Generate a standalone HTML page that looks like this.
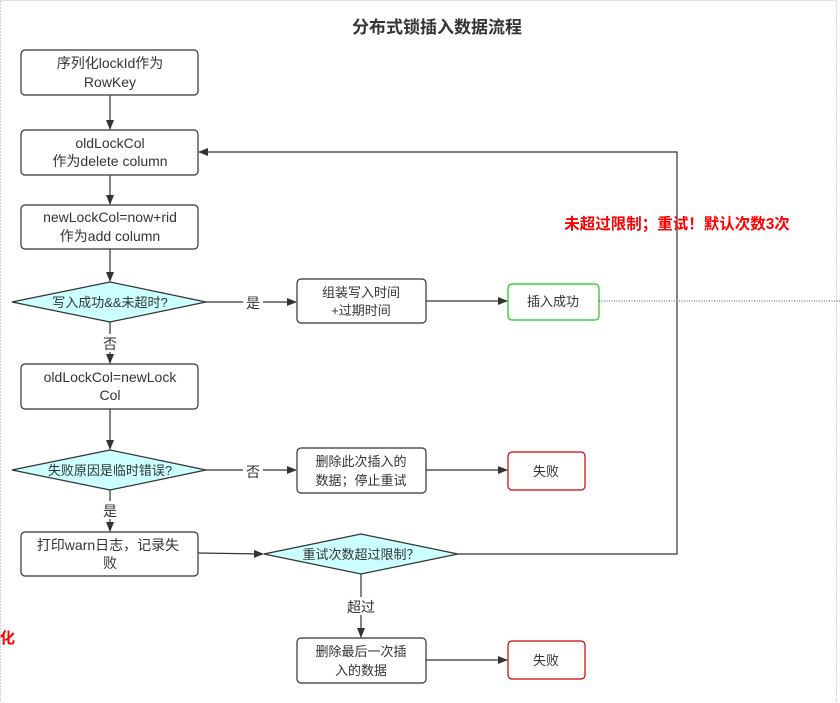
<!DOCTYPE html>
<html><head><meta charset="utf-8"><style>
body{margin:0;background:#fff;}
svg{display:block;font-family:"Liberation Sans","Noto Sans CJK SC",sans-serif;}
</style></head><body>
<svg width="840" height="703" viewBox="0 0 840 703" xmlns="http://www.w3.org/2000/svg">
<defs><marker id="a" markerWidth="10" markerHeight="8" refX="9" refY="4" orient="auto" markerUnits="userSpaceOnUse"><path d="M0,0 L10,4 L0,8 z" fill="#333"/></marker></defs>
<rect x="0.5" y="0.5" width="836" height="710" fill="none" stroke="#aaa" stroke-dasharray="1,2"/>
<text x="437" y="33" font-size="17" font-weight="bold" fill="#333" text-anchor="middle">分布式锁插入数据流程</text>
<g fill="#fff" stroke="#333" stroke-width="1.2">
<rect x="21" y="50" width="177" height="45" rx="4"/>
<rect x="21" y="130" width="177" height="45" rx="4"/>
<rect x="21" y="205" width="177" height="44" rx="4"/>
<rect x="297" y="279" width="129" height="44" rx="4"/>
<rect x="21" y="364" width="177" height="45" rx="4"/>
<rect x="297" y="448" width="129" height="45" rx="4"/>
<rect x="21" y="532" width="177" height="44" rx="4"/>
<rect x="297" y="638" width="129" height="45" rx="4"/>
<polygon points="12,302 110,282 206,302 110,322" fill="#ccffff"/>
<polygon points="12,470 110,450 206,470 110,490" fill="#ccffff"/>
<polygon points="264,554 361,534 458,554 361,574" fill="#ccffff"/>
</g>
<rect x="508" y="284" width="91" height="36" rx="4" fill="#fff" stroke="#1c1" stroke-width="1.2"/>
<rect x="508" y="452" width="77" height="38" rx="4" fill="#fff" stroke="#c00" stroke-width="1.2"/>
<rect x="508" y="641" width="77" height="38" rx="4" fill="#fff" stroke="#c00" stroke-width="1.2"/>
<g stroke="#333" stroke-width="1.2" fill="none" marker-end="url(#a)">
<line x1="110" y1="95" x2="110" y2="129"/>
<line x1="110" y1="175" x2="110" y2="204"/>
<line x1="110" y1="249" x2="110" y2="281"/>
<line x1="206" y1="302" x2="296" y2="302"/>
<line x1="426" y1="301" x2="507" y2="301"/>
<line x1="110" y1="322" x2="110" y2="363"/>
<line x1="110" y1="409" x2="110" y2="449"/>
<line x1="206" y1="470" x2="296" y2="470"/>
<line x1="426" y1="470" x2="507" y2="470"/>
<line x1="110" y1="490" x2="110" y2="531"/>
<line x1="198" y1="553" x2="263" y2="554"/>
<line x1="361" y1="574" x2="361" y2="637"/>
<line x1="426" y1="660" x2="507" y2="660"/>
<polyline points="458,554 677,554 677,152 199,152"/>
</g>
<line x1="599" y1="301" x2="840" y2="301" stroke="#555" stroke-dasharray="1,1.5"/>
<g font-size="14" fill="#333" text-anchor="middle">
<rect x="243" y="293" width="20" height="18" fill="#fff"/><text x="253" y="308">是</text>
<rect x="100" y="334" width="20" height="18" fill="#fff"/><text x="110" y="349">否</text>
<rect x="243" y="461" width="20" height="18" fill="#fff"/><text x="253" y="477">否</text>
<rect x="100" y="501" width="20" height="18" fill="#fff"/><text x="110" y="516">是</text>
<rect x="344" y="597" width="34" height="18" fill="#fff"/><text x="361" y="612">超过</text>
<text x="110" y="68">序列化lockId作为</text><text x="110" y="87">RowKey</text>
<text x="110" y="148">oldLockCol</text><text x="110" y="166">作为delete column</text>
<text x="110" y="222">newLockCol=now+rid</text><text x="110" y="241">作为add column</text>
<text x="110" y="382">oldLockCol=newLock</text><text x="110" y="400">Col</text>
<text x="108" y="550">打印warn日志，记录失</text><text x="110" y="568">败</text>
<text x="110" y="307" font-size="13">写入成功&amp;&amp;未超时?</text>
<text x="110" y="475" font-size="13">失败原因是临时错误?</text>
<text x="361" y="559" font-size="13">重试次数超过限制？</text>
<text x="361" y="297" font-size="13">组装写入时间</text><text x="361" y="315" font-size="13">+过期时间</text>
<text x="361" y="466" font-size="13">删除此次插入的</text><text x="361" y="485" font-size="13">数据；停止重试</text>
<text x="361" y="656" font-size="13">删除最后一次插</text><text x="361" y="675" font-size="13">入的数据</text>
<text x="553" y="306" font-size="13">插入成功</text>
<text x="546" y="476" font-size="13">失败</text>
<text x="546" y="665" font-size="13">失败</text>
</g>
<text x="677" y="229" font-size="15.5" font-weight="bold" fill="#f00" text-anchor="middle">未超过限制；重试！默认次数3次</text>
<text x="0" y="643" font-size="15" font-weight="bold" fill="#f00">化</text>
</svg>
</body></html>
